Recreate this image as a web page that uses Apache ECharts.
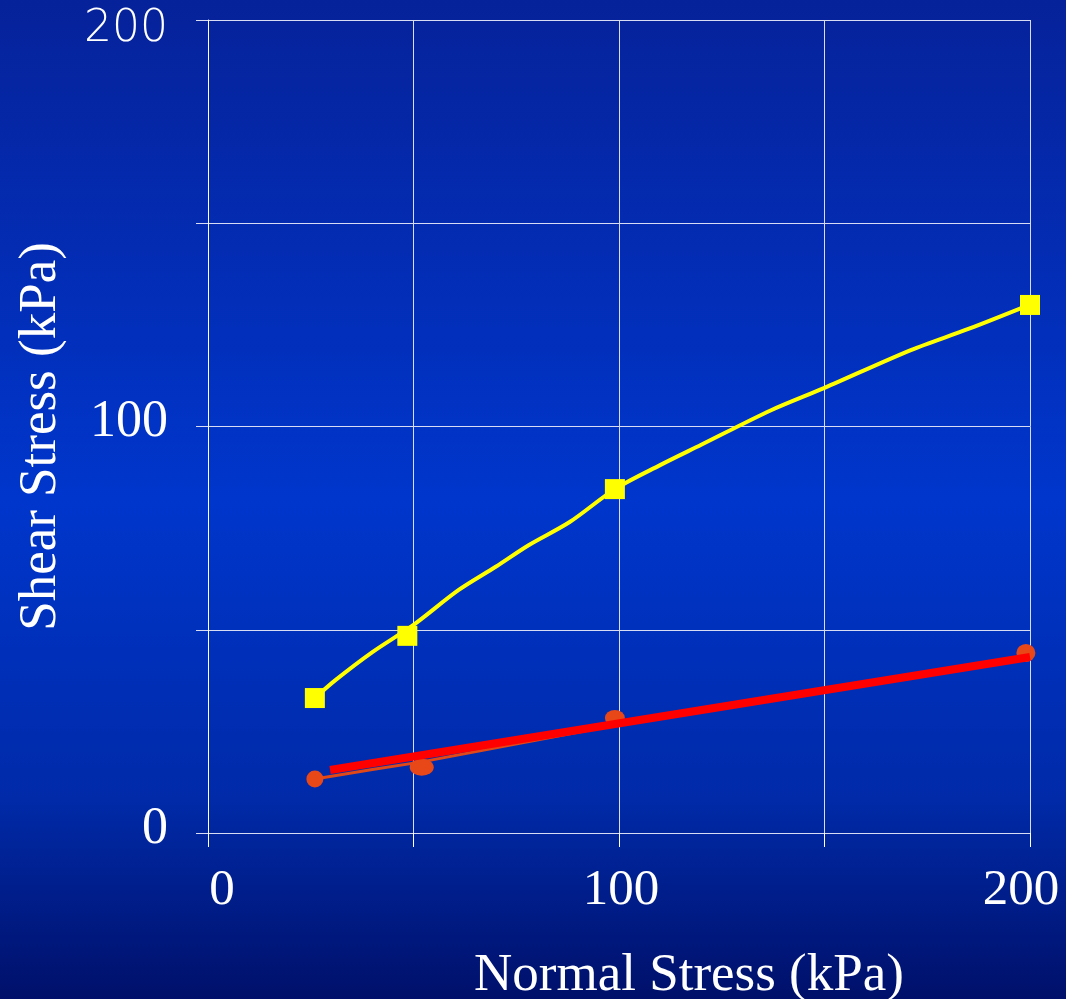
<!DOCTYPE html>
<html>
<head>
<meta charset="utf-8">
<script src="https://cdn.jsdelivr.net/npm/echarts@6/dist/echarts.min.js"></script>
<style>html,body{margin:0;padding:0;background:#0030b8;}#c{width:1066px;height:999px;}</style>
</head>
<body>
<div id="c"></div>
<script>
// Data
const xTickLabels = [0, 100, 200];
const yTickLabels = [0, 100, 200];
const yellowCurveX = [26, 31, 40, 50, 61, 70, 78, 88, 99, 110, 120, 137, 150, 171, 185, 200];
const yellowCurveY = [33.2, 37.6, 44.5, 51.2, 59.8, 65.5, 70.8, 76.5, 84.6, 90.5, 95.5, 104, 109.5, 118.8, 124, 130];
const yellowPointsX = [26, 48.5, 99, 200];
const yellowPointsY = [33.2, 48.5, 84.6, 129.9];
const redPointsX = [26, 52, 99, 199];
const redPointsY = [13.3, 16.2, 28.3, 44.3];
const redThinX = [26, 40, 52, 99, 199];
const redThinY = [13.3, 15.6, 17.5, 26.5, 43.0];
const redFitX = [29.7, 200];
const redFitY = [15.5, 43.3];

const serif = "'Liberation Serif','Times New Roman',serif";
const zip = (a, b) => a.map((v, i) => [v, b[i]]);
const chart = echarts.init(document.getElementById('c'));

chart.setOption({
  animation: false,
  backgroundColor: new echarts.graphic.LinearGradient(0, 0, 0, 1, [
    {offset: 0, color: '#06229a'},
    {offset: 0.5, color: '#0036cc'},
    {offset: 0.8, color: '#002aa8'},
    {offset: 1, color: '#00106a'}
  ]),
  grid: {left: 208, top: 20, right: 36, bottom: 166, containLabel: false, outerBoundsMode: 'none'},
  xAxis: {
    type: 'value', min: 0, max: 200, interval: 50,
    name: 'Normal Stress (kPa)', nameLocation: 'middle', nameGap: 117,
    nameTextStyle: {color: '#ffffff', fontFamily: serif, fontSize: 53, padding: [0, 0, 0, 140]},
    axisLine: {show: true, onZero: false, lineStyle: {color: '#d8dcf4', width: 1}},
    axisTick: {show: true, inside: false, length: 14, lineStyle: {color: '#ffffff', width: 1}},
    splitLine: {show: true, lineStyle: {color: '#d8dcf4', width: 1}},
    axisLabel: {
      color: '#ffffff', margin: 32,
      formatter: v => {
        if (xTickLabels.indexOf(v) < 0) return '';
        if (v === 0) return '{a|' + v + '}';
        if (v === 200) return '{c|' + v + '}';
        return '{b|' + v + '}';
      },
      rich: {
        a: {fontFamily: serif, fontSize: 51, color: '#ffffff', padding: [0, 0, 0, 28]},
        b: {fontFamily: serif, fontSize: 51, color: '#ffffff', padding: [0, 0, 0, 4]},
        c: {fontFamily: serif, fontSize: 51, color: '#ffffff', padding: [0, 18, 0, 0]}
      }
    }
  },
  yAxis: {
    type: 'value', min: 0, max: 200, interval: 50,
    name: 'Shear Stress (kPa)', nameLocation: 'middle', nameGap: 140, nameRotate: 90,
    nameTextStyle: {color: '#ffffff', fontFamily: serif, fontSize: 53, padding: [0, 20, 0, 0]},
    axisLine: {show: true, onZero: false, lineStyle: {color: '#ffffff', width: 1}},
    axisTick: {show: true, inside: false, length: 12, lineStyle: {color: '#d8dcf4', width: 1}},
    splitLine: {show: true, lineStyle: {color: '#d8dcf4', width: 1}},
    axisLabel: {
      color: '#ffffff', margin: 40,
      formatter: v => {
        if (yTickLabels.indexOf(v) < 0) return '';
        return v === 200 ? '{s|' + v + '}' : '{r|' + v + '}';
      },
      rich: {
        s: {fontFamily: "'DejaVu Sans',sans-serif", fontWeight: 200, fontSize: 44, color: '#ffffff', padding: [20, 0, 0, 0]},
        r: {fontFamily: serif, fontSize: 52, color: '#ffffff', padding: [0, 0, 8, 0]}
      }
    }
  },
  series: [
    {
      type: 'line', data: zip(yellowCurveX, yellowCurveY), smooth: 0.3,
      symbol: 'none', lineStyle: {color: '#ffff00', width: 4}, z: 3
    },
    {
      type: 'scatter', data: zip(yellowPointsX, yellowPointsY),
      symbol: 'rect', symbolSize: 20, itemStyle: {color: '#ffff00', opacity: 1}, z: 4
    },
    {
      type: 'line', data: zip(redThinX, redThinY),
      symbol: 'none', lineStyle: {color: '#e04818', width: 3}, z: 3
    },
    {
      type: 'scatter',
      data: [
        {value: [redPointsX[0], redPointsY[0]], symbolSize: [17, 17]},
        {value: [redPointsX[1], redPointsY[1]], symbolSize: [24, 17]},
        {value: [redPointsX[2], redPointsY[2]], symbolSize: [20, 16]},
        {value: [redPointsX[3], redPointsY[3]], symbolSize: [19, 18]}
      ],
      symbol: 'circle', itemStyle: {color: '#e84818', opacity: 1}, z: 4
    },
    {
      type: 'line', data: zip(redFitX, redFitY),
      symbol: 'none', lineStyle: {color: '#ff0000', width: 8, cap: 'butt'}, z: 5
    }
  ]
});
</script>
</body>
</html>
